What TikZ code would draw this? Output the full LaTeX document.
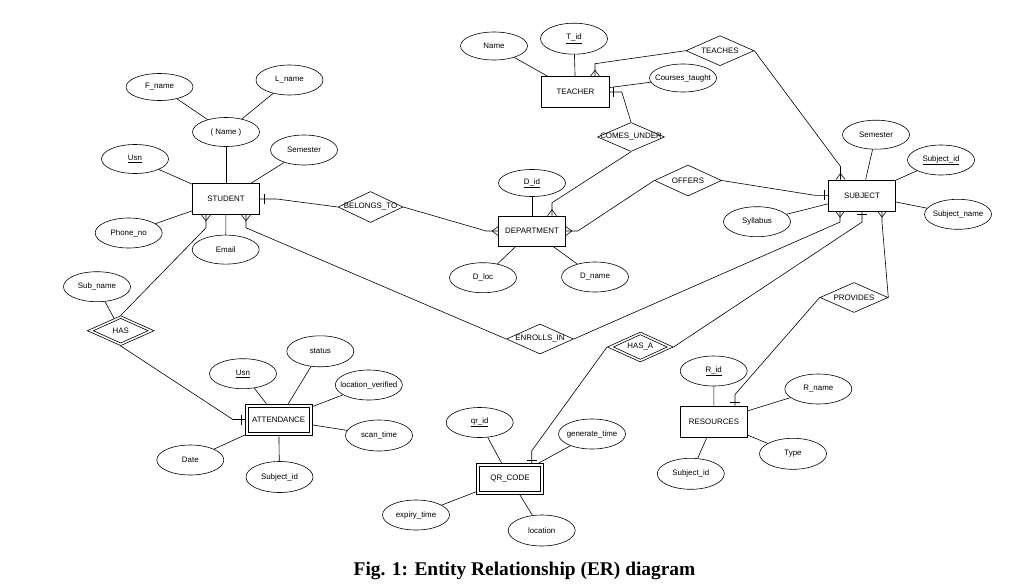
\documentclass[tikz,border=0pt]{standalone}
\usepackage{fontspec}
\setmainfont{Liberation Sans}
\newfontfamily\capfont{Liberation Serif}
\usetikzlibrary{shapes.geometric,calc,backgrounds}
\newcommand\zw[1]{\makebox[0pt]{#1}}
\tikzset{
  lw/.style={line width=0.6pt},
  ent/.style={draw, lw, rectangle, minimum width=67pt, minimum height=31pt},
  attr/.style={draw, lw, ellipse, minimum width=67pt, minimum height=30pt},
  rel/.style={draw, lw, diamond, minimum width=67pt, minimum height=30pt},
  inner/.style={draw, lw},
  conn/.style={draw, lw},
  crowD/.pic={\draw[lw] (-4.5,0) -- (0,6) -- (4.5,0);},
  crowU/.pic={\draw[lw] (-4.5,0) -- (0,-6) -- (4.5,0);},
  crowL/.pic={\draw[lw] (0,-4.5) -- (-6,0) -- (0,4.5);},
  crowR/.pic={\draw[lw] (0,-4.5) -- (6,0) -- (0,4.5);},
  barH/.pic={\draw[lw] (-5,0) -- (5,0);},
  barV/.pic={\draw[lw] (0,-5) -- (0,5);}
}
\begin{document}
\begin{tikzpicture}[x=1pt,y=-1pt,
  every node/.style={font=\fontsize{7.9}{9}\selectfont, inner sep=0pt}]
\useasboundingbox (0,0) rectangle (1035,586);
% entities
\node[ent] (student) at (226,199) {STUDENT};
\node[ent, minimum width=68pt] (teacher) at (575.5,92) {TEACHER};
\node[ent, minimum height=30pt] (dept) at (532,231) {DEPARTMENT};
\node[ent] (subject) at (862,195.3) {SUBJECT};
\node[ent] (att) at (278.7,419.5) {ATTENDANCE};
\draw[inner] ($(att.south west)+(3.5,-3.5)$) rectangle ($(att.north east)+(-3.5,3.5)$);
\node[ent] (qr) at (510,478.7) {QR\_CODE};
\draw[inner] ($(qr.south west)+(3.5,-3.5)$) rectangle ($(qr.north east)+(-3.5,3.5)$);
\node[ent] (res) at (714,421.3) {RESOURCES};
% relationships
\node[rel, minimum width=65pt, minimum height=31pt] (belongs) at (370.5,207) {\zw{BELONGS\_TO}};
\node[rel, minimum height=29pt] (comes) at (631,137) {\zw{COMES\_UNDER}};
\node[rel, minimum width=68pt] (teaches) at (720,50.7) {\zw{TEACHES}};
\node[rel, minimum height=31pt] (offers) at (688,180.5) {\zw{OFFERS}};
\node[rel] (enrolls) at (540,339) {\zw{ENROLLS\_IN}};
\node[rel, minimum width=66pt] (hasa) at (640.3,347) {\zw{HAS\_A}};
\draw[inner] ($(hasa.north)+(0,3)$) -- ($(hasa.east)+(-6.5,0)$) -- ($(hasa.south)+(0,-3)$) -- ($(hasa.west)+(6.5,0)$) -- cycle;
\node[rel] (has) at (120.7,330.7) {\zw{HAS}};
\draw[inner] ($(has.north)+(0,3)$) -- ($(has.east)+(-6.5,0)$) -- ($(has.south)+(0,-3)$) -- ($(has.west)+(6.5,0)$) -- cycle;
\node[rel, minimum width=68pt] (provides) at (854,297.5) {\zw{PROVIDES}};
% attributes
\node[attr, minimum height=27pt] (fname) at (159.5,87) {\zw{F\_name}};
\node[attr] (lname) at (289.5,80) {\zw{L\_name}};
\node[attr, minimum height=29pt] (name) at (226,132) {\zw{( Name )}};
\node[attr] (ssem) at (304,150) {\zw{Semester}};
\node[attr, minimum height=29pt] (susn) at (135,159) {\zw{\underline{Usn}}};
\node[attr] (phone) at (128.7,233) {\zw{Phone\_no}};
\node[attr, minimum height=29pt] (email) at (225.7,249.6) {\zw{Email}};
\node[attr, minimum height=28pt] (tname) at (494,46) {\zw{Name}};
\node[attr, minimum height=31pt] (tid) at (574,38.7) {\zw{\underline{T\_id}}};
\node[attr, minimum height=28pt] (courses) at (683,78) {\zw{Courses\_taught}};
\node[attr, minimum height=27pt] (did) at (532,183) {\zw{\underline{D\_id}}};
\node[attr] (dloc) at (483,277.7) {\zw{D\_loc}};
\node[attr] (dname) at (595,277) {\zw{D\_name}};
\node[attr, minimum height=29pt] (subsem) at (876,134.7) {\zw{Semester}};
\node[attr] (subid) at (941,160) {\zw{\underline{Subject\_id}}};
\node[attr] (subname) at (958,214.3) {\zw{Subject\_name}};
\node[attr] (syll) at (757,221.7) {\zw{Syllabus}};
\node[attr] (subn) at (97,286.7) {\zw{Sub\_name}};
\node[attr] (ausn) at (243,373.7) {\zw{\underline{Usn}}};
\node[attr, minimum height=31pt] (status) at (320.3,351.3) {\zw{status}};
\node[attr] (locv) at (368.8,385) {\zw{location\_verified}};
\node[attr, minimum height=31pt] (scan) at (379,435.5) {\zw{scan\_time}};
\node[attr] (date) at (190.3,460) {\zw{Date}};
\node[attr, minimum height=31pt] (asubid) at (279.5,477) {\zw{Subject\_id}};
\node[attr] (qrid) at (479.7,422.5) {\zw{\underline{qr\_id}}};
\node[attr] (gent) at (592,434) {\zw{generate\_time}};
\node[attr] (expt) at (416,515) {\zw{expiry\_time}};
\node[attr, minimum height=31pt] (loc) at (541.7,530.5) {\zw{location}};
\node[attr] (rid) at (713.7,371) {\zw{\underline{R\_id}}};
\node[attr] (rname) at (818.3,389) {\zw{R\_name}};
\node[attr, minimum height=31pt] (type) at (793,453.8) {\zw{Type}};
\node[attr, minimum height=31pt] (rsubid) at (690.8,473.8) {\zw{Subject\_id}};
% caption
\node[font=\capfont\bfseries\fontsize{19.4}{22}\selectfont, anchor=base] (cap) at (524.5,575.5) {Fig. 1: Entity Relationship (ER) diagram};
\begin{pgfonlayer}{background}
% attribute links
\draw[conn] (fname) -- (name);
\draw[conn] (lname) -- (name);
\draw[conn] (name) -- (student);
\draw[conn] (susn) -- (student);
\draw[conn] (ssem) -- (student);
\draw[conn] (phone) -- (student);
\draw[conn] (email) -- (student);
\draw[conn] (tname) -- (teacher);
\draw[conn] (tid) -- (teacher);
\draw[conn] (courses) -- (teacher);
\draw[conn] (did) -- (dept);
\draw[conn] (dloc) -- (dept);
\draw[conn] (dname) -- (dept);
\draw[conn] (subsem) -- (subject);
\draw[conn] (subid) -- (subject);
\draw[conn] (subname) -- (subject);
\draw[conn] (syll) -- (subject);
\draw[conn] (subn) -- (has);
\draw[conn] (ausn) -- (att);
\draw[conn] (status) -- (att);
\draw[conn] (locv) -- (att);
\draw[conn] (scan) -- (att);
\draw[conn] (date) -- (att);
\draw[conn] (asubid) -- (att);
\draw[conn] (qrid) -- (qr);
\draw[conn] (gent) -- (qr);
\draw[conn] (expt) -- (qr);
\draw[conn] (loc) -- (qr);
\draw[conn] (rid) -- (res);
\draw[conn] (rname) -- (res);
\draw[conn] (type) -- (res);
\draw[conn] (rsubid) -- (res);
% relationship links
\draw[conn] (student.east) -- ++(17,0) -- (belongs.west);
\draw[conn] (belongs.east) -- ($(dept.west)+(-12,0)$) -- (dept.west);
\draw[conn] ($(dept.north)+(20,0)$) -- ++(0,-13) -- (comes.south);
\draw[conn] (comes.north) -- ($(teacher.east)+(12,0)$) -- (teacher.east);
\draw[conn] ($(teacher.north)+(19.5,0)$) -- ++(0,-12.5) -- (teaches.west);
\draw[conn] (teaches.east) -- ($(subject.north)+(-21.5,-13)$) -- ($(subject.north)+(-21.5,0)$);
\draw[conn] (dept.east) -- ++(12,0) -- (offers.west);
\draw[conn] (offers.east) -- ($(subject.west)+(-13.5,0)$) -- (subject.west);
\draw[conn] ($(student.south)+(20,0)$) -- ++(0,13) -- (enrolls.west);
\draw[conn] (enrolls.east) -- ($(subject.south)+(-22,11)$) -- ($(subject.south)+(-22,0)$);
\draw[conn] (hasa.east) -- ($(subject.south)+(0,11)$) -- (subject.south);
\draw[conn] (hasa.west) -- ($(qr.north)+(21.7,-12)$) -- ($(qr.north)+(21.7,0)$);
\draw[conn] ($(subject.south)+(20,0)$) -- ++(0,11) -- (provides.east);
\draw[conn] (provides.west) -- ($(res.north)+(21,-11)$) -- ($(res.north)+(21,0)$);
\draw[conn] ($(student.south)+(-20,0)$) -- ++(0,13) -- (has.north);
\draw[conn] (has.south) -- ($(att.west)+(-12,0)$) -- (att.west);
\end{pgfonlayer}
% cardinality markers
\pic at ($(student.east)+(4,0)$) {barV};
\pic at (dept.west) {crowL};
\pic at ($(dept.north)+(20,0)$) {crowU};
\pic at ($(teacher.east)+(3,0)$) {barV};
\pic at ($(teacher.north)+(19.5,0)$) {crowU};
\pic at ($(subject.north)+(-21.5,0)$) {crowU};
\pic at (dept.east) {crowR};
\pic at ($(subject.west)+(-4,0)$) {barV};
\pic at ($(student.south)+(20,0)$) {crowD};
\pic at ($(subject.south)+(-22,0)$) {crowD};
\pic at ($(subject.south)+(0,3.5)$) {barH};
\pic at ($(qr.north)+(21.7,-3)$) {barH};
\pic at ($(subject.south)+(20,0)$) {crowD};
\pic at ($(res.north)+(21,-3)$) {barH};
\pic at ($(student.south)+(-20,0)$) {crowD};
\pic at ($(att.west)+(-4,0)$) {barV};
\end{tikzpicture}
\end{document}
